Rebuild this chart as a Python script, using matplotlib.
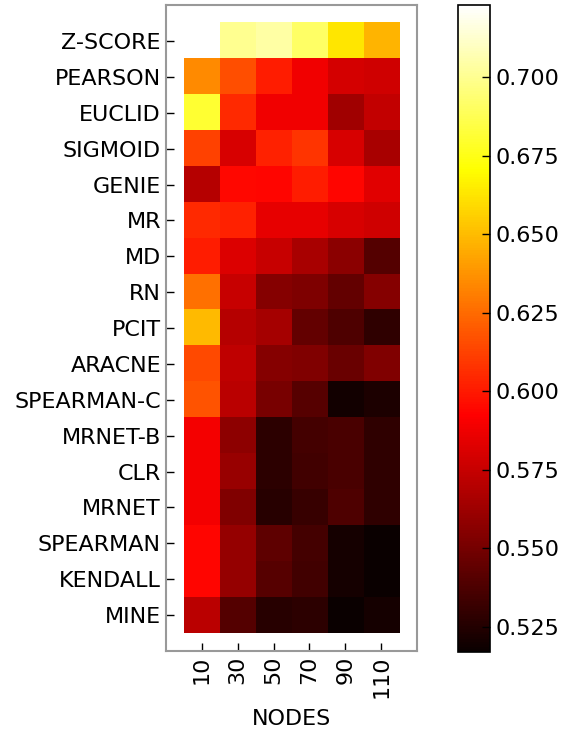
import numpy as np
import matplotlib
matplotlib.use("Agg")
import matplotlib.pyplot as plt

# methods (rows) and network sizes (columns)
methods = ["Z-SCORE", "PEARSON", "EUCLID", "SIGMOID", "GENIE", "MR", "MD", "RN",
           "PCIT", "ARACNE", "SPEARMAN-C", "MRNET-B", "CLR", "MRNET",
           "SPEARMAN", "KENDALL", "MINE"]
nodes = ["10", "30", "50", "70", "90", "110"]

z_score    = [np.nan, 0.700, 0.704, 0.691, 0.663, 0.648]
pearson    = [0.635, 0.616, 0.601, 0.588, 0.579, 0.578]
euclid     = [0.681, 0.605, 0.588, 0.588, 0.563, 0.574]
sigmoid    = [0.612, 0.580, 0.603, 0.608, 0.580, 0.566]
genie      = [0.570, 0.595, 0.594, 0.601, 0.594, 0.583]
mr         = [0.605, 0.603, 0.585, 0.585, 0.580, 0.578]
md         = [0.601, 0.582, 0.575, 0.566, 0.557, 0.540]
rn         = [0.627, 0.575, 0.555, 0.553, 0.545, 0.555]
pcit       = [0.649, 0.570, 0.565, 0.545, 0.538, 0.529]
aracne     = [0.615, 0.573, 0.555, 0.554, 0.546, 0.554]
spearman_c = [0.618, 0.571, 0.551, 0.541, 0.520, 0.523]
mrnet_b    = [0.589, 0.558, 0.528, 0.535, 0.537, 0.529]
clr        = [0.589, 0.561, 0.528, 0.534, 0.537, 0.529]
mrnet      = [0.589, 0.554, 0.526, 0.531, 0.538, 0.529]
spearman   = [0.594, 0.560, 0.543, 0.535, 0.521, 0.517]
kendall    = [0.594, 0.560, 0.541, 0.534, 0.521, 0.517]
mine       = [0.571, 0.540, 0.526, 0.528, 0.517, 0.521]

vmin, vmax = 0.517, 0.723

data = np.array([z_score, pearson, euclid, sigmoid, genie, mr, md, rn, pcit,
                 aracne, spearman_c, mrnet_b, clr, mrnet, spearman, kendall, mine])
data = np.ma.masked_invalid(data)

fig = plt.figure(figsize=(5.66, 7.29), dpi=100)
ax = fig.add_axes([0.293, 0.107, 0.444, 0.886])
im = ax.imshow(data, cmap="hot", vmin=vmin, vmax=vmax, aspect="auto",
               interpolation="nearest")
ax.set_xlim(-1, 6)
ax.set_ylim(17, -1)

ax.set_xticks(range(len(nodes)))
ax.set_xticklabels(nodes, rotation=90, fontsize=16)
ax.set_yticks(range(len(methods)))
ax.set_yticklabels(methods, fontsize=16)
ax.tick_params(direction="in", length=6, width=1)
ax.set_xlabel("NODES", fontsize=16, labelpad=8)
for s in ax.spines.values():
    s.set_color("#999999")
    s.set_linewidth(1.5)

cax = fig.add_axes([0.809, 0.106, 0.057, 0.887])
cb = fig.colorbar(im, cax=cax)
cb.set_ticks([0.525, 0.55, 0.575, 0.6, 0.625, 0.65, 0.675, 0.7])
cb.ax.tick_params(direction="in", length=6, width=1, labelsize=16)
cb.outline.set_linewidth(1.2)

fig.savefig("out.png", dpi=100)
